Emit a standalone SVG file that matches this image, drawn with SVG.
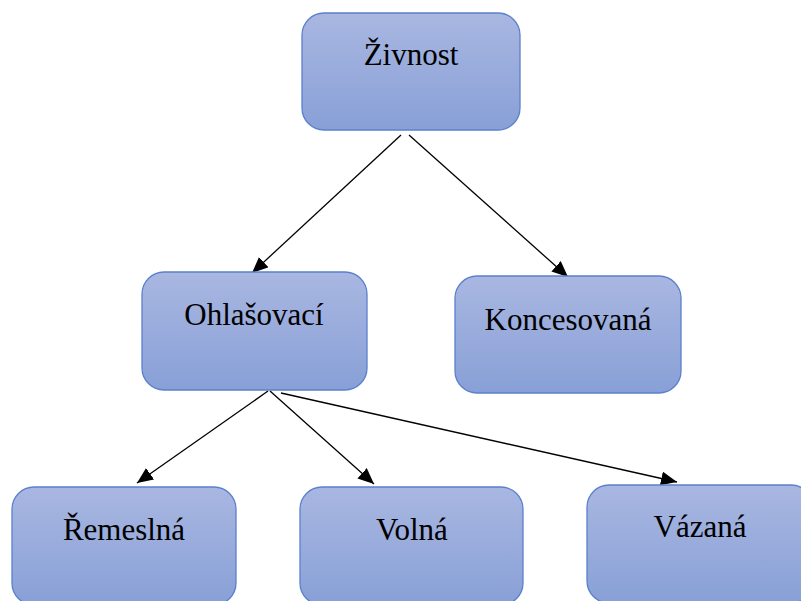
<svg xmlns="http://www.w3.org/2000/svg" width="801" height="601" viewBox="0 0 801 601">
<defs>
<linearGradient id="g" x1="0" y1="0" x2="0" y2="1">
<stop offset="0" stop-color="#a9b7e1"/>
<stop offset="1" stop-color="#88a0d7"/>
</linearGradient>
<marker id="ah" markerUnits="userSpaceOnUse" markerWidth="18" markerHeight="14" refX="16" refY="7" orient="auto">
<path d="M0,0 L16,7 L0,14 Z" fill="#000"/>
</marker>
</defs>
<style>
.box{fill:url(#g);stroke:#5b80cc;stroke-width:1.3}
.t{font-family:"Liberation Serif","Times New Roman",serif;font-size:31px;fill:#000;text-anchor:middle}
.c{stroke:#000;stroke-width:1.3;fill:none;marker-end:url(#ah)}
</style>
<rect width="801" height="601" fill="#fff"/>
<g id="connectors">
<line class="c" x1="401" y1="135" x2="252" y2="273"/>
<line class="c" x1="409" y1="135" x2="568" y2="277"/>
<line class="c" x1="268" y1="391" x2="137" y2="483"/>
<line class="c" x1="270" y1="391" x2="374" y2="484"/>
<line class="c" x1="281" y1="393" x2="677" y2="482"/>
</g>
<g id="zivnost"><rect class="box" x="302" y="13" width="218" height="117" rx="22"/><text class="t" x="411" y="65">Živnost</text></g>
<g id="ohlasovaci"><rect class="box" x="142" y="272" width="225" height="118" rx="22"/><text class="t" x="254" y="325">Ohlašovací</text></g>
<g id="koncesovana"><rect class="box" x="455" y="276" width="226" height="117" rx="22"/><text class="t" x="568" y="330">Koncesovaná</text></g>
<g id="remeslna"><rect class="box" x="12" y="487" width="224" height="118" rx="22"/><text class="t" x="124" y="540">Řemeslná</text></g>
<g id="volna"><rect class="box" x="300" y="487" width="223" height="118" rx="22"/><text class="t" x="412" y="540">Volná</text></g>
<g id="vazana"><rect class="box" x="587" y="485" width="226" height="118" rx="22"/><text class="t" x="700" y="537">Vázaná</text></g>
</svg>
